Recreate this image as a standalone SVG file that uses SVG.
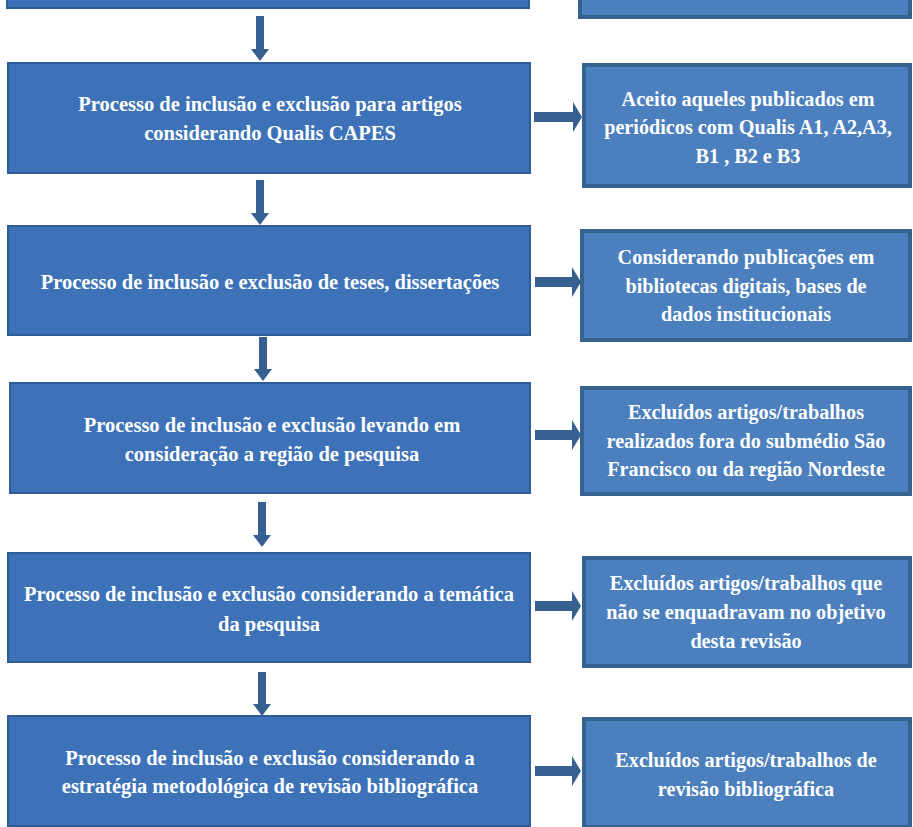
<svg xmlns="http://www.w3.org/2000/svg" width="913" height="827" viewBox="0 0 913 827">
<defs>
<style>
.l{fill:#3d72b9;stroke:#2e5c94;stroke-width:2}
.r{fill:#4b7fbd;stroke:#35628f;stroke-width:4}
.t{font-family:"Liberation Serif","Times New Roman",serif;font-weight:bold;font-size:20.5px;fill:#fff;text-anchor:middle}
.s{font-size:20.2px}
.a{fill:#36608f}
</style>
</defs>
<g id="top-left"><rect class="l" x="7" y="-20" width="522" height="28"/></g>
<g id="top-right"><rect class="r" x="580" y="-20" width="330" height="37"/></g>
<g id="n1"><rect class="l" x="8" y="63" width="522" height="110"/>
<text class="t" x="270" y="111">Processo de inclusão e exclusão para artigos</text>
<text class="t" x="270" y="140">considerando Qualis CAPES</text></g>
<g id="r1"><rect class="r" x="584" y="65" width="326" height="121"/>
<text class="t s" x="748" y="106">Aceito aqueles publicados em</text>
<text class="t s" x="748" y="134">periódicos com Qualis A1, A2,A3,</text>
<text class="t s" x="748" y="163">B1 , B2 e B3</text></g>
<g id="n2"><rect class="l" x="8" y="226" width="522" height="109"/>
<text class="t" x="270" y="289">Processo de inclusão e exclusão de teses, dissertações</text></g>
<g id="r2"><rect class="r" x="582" y="231" width="328" height="109"/>
<text class="t s" x="746" y="264">Considerando publicações em</text>
<text class="t s" x="746" y="293">bibliotecas digitais, bases de</text>
<text class="t s" x="746" y="321">dados institucionais</text></g>
<g id="n3"><rect class="l" x="10" y="383" width="520" height="110"/>
<text class="t" x="272" y="432">Processo de inclusão e exclusão levando em</text>
<text class="t" x="272" y="461">consideração a região de pesquisa</text></g>
<g id="r3"><rect class="r" x="582" y="388" width="328" height="106"/>
<text class="t s" x="746" y="419">Excluídos artigos/trabalhos</text>
<text class="t s" x="746" y="448">realizados fora do submédio São</text>
<text class="t s" x="746" y="476">Francisco ou da região Nordeste</text></g>
<g id="n4"><rect class="l" x="8" y="553" width="522" height="109"/>
<text class="t" x="269" y="601">Processo de inclusão e exclusão considerando a temática</text>
<text class="t" x="269" y="631">da pesquisa</text></g>
<g id="r4"><rect class="r" x="584" y="558" width="326" height="108"/>
<text class="t s" x="746" y="590">Excluídos artigos/trabalhos que</text>
<text class="t s" x="746" y="619">não se enquadravam no objetivo</text>
<text class="t s" x="746" y="648">desta revisão</text></g>
<g id="n5"><rect class="l" x="8" y="716" width="522" height="110"/>
<text class="t" x="270" y="765">Processo de inclusão e exclusão considerando a</text>
<text class="t" x="270" y="793">estratégia metodológica de revisão bibliográfica</text></g>
<g id="r5"><rect class="r" x="584" y="719" width="326" height="108"/>
<text class="t s" x="746" y="767">Excluídos artigos/trabalhos de</text>
<text class="t s" x="746" y="796">revisão bibliográfica</text></g>
<g id="connectors">
<path class="a" d="M256 16h8v33h5l-9 12-9-12h5z"/>
<path class="a" d="M256 180h8v33h5l-9 12-9-12h5z"/>
<path class="a" d="M259 337h8v32h5l-9 12-9-12h5z"/>
<path class="a" d="M258 502h8v33h5l-9 12-9-12h5z"/>
<path class="a" d="M258 672h8v32h5l-9 12-9-12h5z"/>
<path class="a" d="M534 112h39v-10l9 15-9 15v-10h-39z"/>
<path class="a" d="M535 277h37v-10l9 15-9 15v-10h-37z"/>
<path class="a" d="M535 430h37v-10l9 15-9 15v-10h-37z"/>
<path class="a" d="M535 601h37v-10l9 15-9 15v-10h-37z"/>
<path class="a" d="M535 766h37v-10l9 15-9 15v-10h-37z"/>
</g>
</svg>
